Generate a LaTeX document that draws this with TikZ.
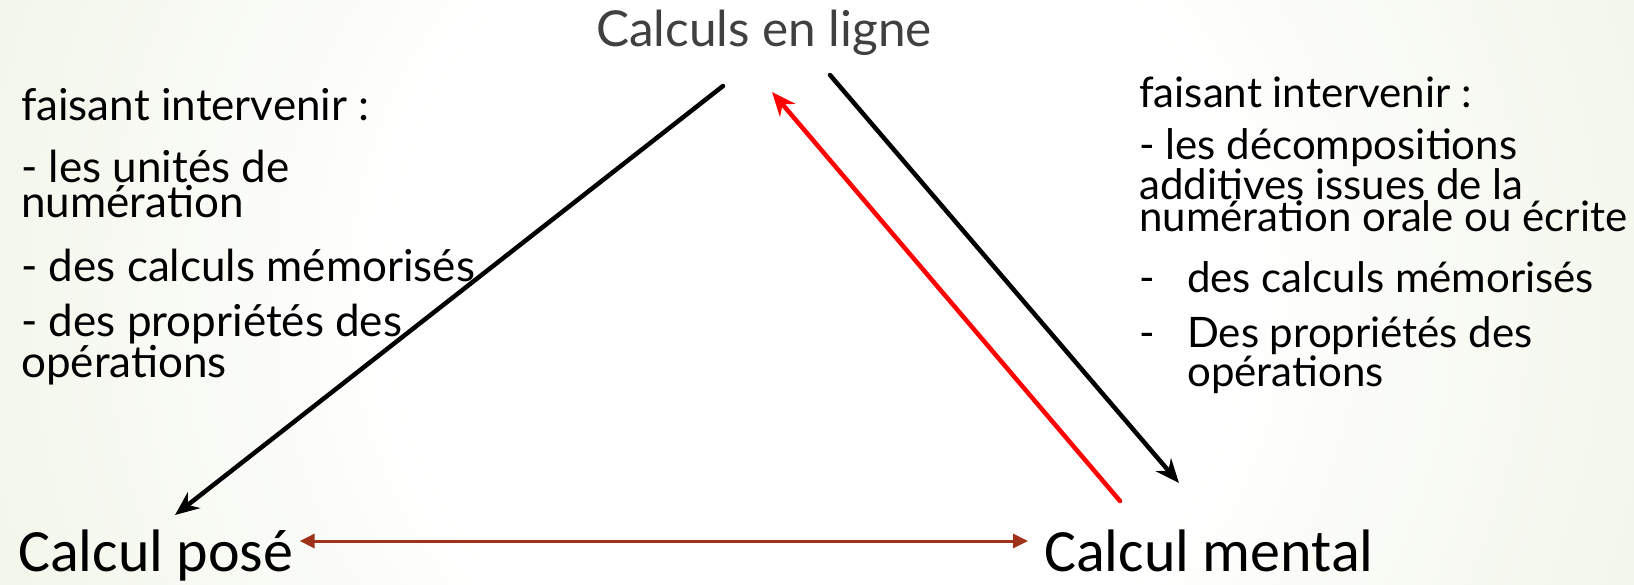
\documentclass[tikz,border=0pt]{standalone}
\usepackage{fontspec}
\setmainfont{Lato}
\newfontfamily\labelfont{Carlito}
\usetikzlibrary{
  arrows.meta,
  positioning,
  calc
}
\definecolor{BGgreen}{HTML}{DDE7C8}
\definecolor{TTgray}{HTML}{404040}
\definecolor{CPbrown}{HTML}{A0321A}
\definecolor{CPred}{HTML}{FF0000}
\pgfdeclareradialshading{bgradial}{\pgfpoint{0bp}{0bp}}{%
  color(0bp)=(white); color(12bp)=(white);
  color(46bp)=(BGgreen); color(50bp)=(BGgreen)}
\newcommand{\itemdash}{\makebox[48pt][l]{-}}

\begin{document}
\begin{tikzpicture}[
      x=1pt, y=-1pt,
      >=Stealth,
      listtxt/.style={
        anchor=base west, align=left, inner sep=0pt,
        font=\fontsize{44}{35}\selectfont
      },
      listtxtR/.style={listtxt, font=\fontsize{42}{32}\selectfont},
      toplbl/.style={anchor=base, inner sep=0pt, text=TTgray,
        font=\fontsize{49.5}{50}\selectfont},
      cornerlbl/.style={anchor=base west, inner sep=0pt,
        font=\labelfont\fontsize{60}{60}\selectfont},
      blackarr/.style={-{Stealth[length=24pt,width=20pt]},
        line width=4.5pt, line cap=round},
      redarr/.style={blackarr, draw=CPred},
      bothway/.style={{Triangle[length=15pt,width=14pt]}-{Triangle[length=15pt,width=14pt]},
        line width=3pt, draw=CPbrown}
    ]
    \useasboundingbox (0,0) rectangle (1634,584);

    % Background
    \begin{scope}
      \clip (0,0) rectangle (1634,584);
      \shade[shading=bgradial] (817,292) circle[radius=870];
    \end{scope}

    % Three corners
    \node[toplbl] (title) at (764,46) {Calculs en ligne};
    \node[cornerlbl] (pose) at (18,571) {Calcul posé};
    \node[cornerlbl] (mental) at (1044,571) {Calcul mental};

    % Left list (base = last line)
    \node[listtxt] (lhead)  at (21,120) {faisant intervenir :};
    \node[listtxt] (lunits) at (21,217) {- les unités de\\numération};
    \node[listtxt] (lmemo)  at (21,281) {- des calculs mémorisés};
    \node[listtxt] (lprops) at (21,377) {- des propriétés des\\opérations};

    % Right list
    \node[listtxtR] (rhead)   at (1139,107) {faisant intervenir :};
    \node[listtxtR] (rdecomp) at (1139,231)
      {- les décompositions\\additives issues de la\\numération orale ou écrite};
    \node[listtxtR] (rmemo)   at (1139,292) {\itemdash des calculs mémorisés};
    \node[listtxtR] (rprops)  at (1139,386)
      {\itemdash Des propriétés des\\\hspace*{48pt}opérations};

    % Arrow ends
    \coordinate (lefttop)  at (723,86);
    \coordinate (leftend)  at (175,515);
    \coordinate (righttop) at (830,75);
    \coordinate (rightend) at (1179,483);
    \coordinate (redstart) at (1120,501);
    \coordinate (redtip)   at (772,92);

    % Arrows
    \draw[blackarr] (lefttop) -- (leftend);
    \draw[blackarr] (righttop) -- (rightend);
    \draw[redarr] (redstart) -- (redtip);
    \draw[bothway] ([shift={(6pt,30pt)}]pose.base east)
      -- ([shift={(-16pt,30pt)}]mental.base west);
  \end{tikzpicture}
\end{document}
